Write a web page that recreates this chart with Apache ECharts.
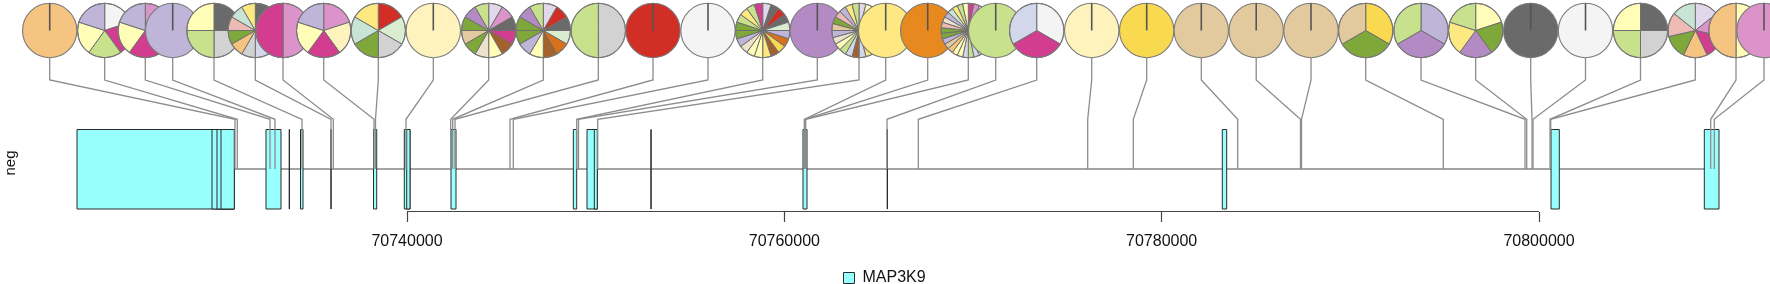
<!DOCTYPE html>
<html><head><meta charset="utf-8">
<script src="https://cdn.jsdelivr.net/npm/echarts@6/dist/echarts.min.js"></script>
<style>html,body{margin:0;padding:0;background:#fff}#c{width:1770px;height:284px}</style>
</head><body><div id="c"></div>
<script>
// ---------------- data ----------------
const geneName = 'MAP3K9';
const strandLabel = 'neg';
const tickValues = [70740000, 70760000, 70780000, 70800000];
const viewStart = 70718427, viewEnd = 70812244;
const geneStart = 70722509, geneEnd = 70809541;

const exonStarts = [70722509,70729664,70729929,70730141,70732526,70733755,70734355,70735965,70738224,70739857,70739984,70742332,70748815,70749541,70749928,70752926,70760990,70765452,70783214,70800637,70808762];
const exonEnds   = [70730846,70730846,70730846,70730846,70733321,70733768,70734488,70735978,70738394,70740159,70740159,70742597,70748995,70750087,70750087,70752939,70761202,70765465,70783447,70801077,70809541];

// variant genomic positions (where each stem touches the gene)
const snpPositions = [70730883,70731005,70732739,70733003,70734435,70735972,70736094,70738251,70738330,70739947,
  70742316,70742422,70742544,70745459,70745634,70748995,70749090,70750108,
  70761059,70761096,70761133,70765442,70767101,70776080,70778497,70784030,70787359,70787412,
  70794928,70799259,70799349,70799630,70799683,70800584,70800621,70809101,70809292];
// spread-out anchor positions of the pies (genomic units)
const pieAnchors = [70721062,70723977,70726129,70727581,70729770,70731959,70733428,70735585,70738479,70741394,
  70744330,70747224,70750140,70753039,70755954,70758854,70761748,70763958,
  70765373,70767599,70769751,70771204,70773377,70776292,70779207,70782101,70785011,70787916,
  70790815,70793746,70796645,70799561,70802465,70805380,70808285,70810442,70811926];

const pieColors = [
  ['orange'],
  ['white','magenta','lgreen','lyellow','lav'],
  ['pink','cream','magenta','lyellow','lav'],
  ['lav'],
  ['dgrey','lgrey','lgreen','lyellow'],
  ['dgrey','pink','magenta','lyellow','dorange','lblue','lgrey','orange','green','salmon','mint','yellow'],
  ['pink','magenta'],
  ['pink','cream','magenta','lyellow','lav'],
  ['red','pgreen','lgrey','green','mint','yellow'],
  ['cream'],
  ['plav','pink','dgrey','magenta','brown','lyellow','beige','green','tan','green','purple','lgreen'],
  ['plav','red','dgrey','pgreen','dorange','brown','lyellow','lav','green','green','purple','lgreen'],
  ['lgrey','lgreen'],
  ['red'],
  ['white'],
  ['plav','dgrey','red','dgrey','pgreen','lav','dorange','gold','brown','yellow','lyellow','lyellow','beige','lav','green','green','lgreen','yellow','lgreen','magenta'],
  ['purple'],
  ['plav','lyellow','pink','dgrey','lgreen','red','lav','dorange','gold','brown','yellow','lblue','brown','lblue','lgreen','lyellow','beige','lav','tan','green','salmon','lav','yellow','lgreen'],
  ['yellow'],
  ['orange2'],
  ['magenta','pink','plav','lgrey','dgrey','red','pgreen','lav','dorange','gold','brown','yellow','lyellow','lblue','lgreen','lblue','lyellow','lyellow','orange','tan','lav','green','green','salmon','beige','lav','mint','yellow','lgreen','lyellow'],
  ['lgreen'],
  ['white','magenta','lblue'],
  ['cream'],
  ['gold'],
  ['tan'],
  ['tan'],
  ['tan'],
  ['gold','green','tan'],
  ['lav','purple','lgreen'],
  ['lyellow','green','purple','yellow','lgreen'],
  ['dgrey'],
  ['white'],
  ['dgrey','lgrey','lgreen','lyellow'],
  ['plav','pink','magenta','orange','green','salmon','mint'],
  ['lyellow','orange'],
  ['pink']
];
const pieValues = [
  [1],[1,1,1,1,1],[1,1,1,1,1],[1],[1,1,1,1],[1,1,1,1,1,1,1,1,1,1,1,1],[1,1],[1,1,1,1,1],[1,1,1,1,1,1],[1],
  [1,1,1,1,1,1,1,1,1,1,1,1],[1,1,1,1,1,1,1,1,1,1,1,1],[1,1],[1],[1],
  [1,1,1,1,1,1,1,1,1,1,1,1,1,1,1,1,1,1,1,1],[1],
  [1,1,1,1,1,1,1,1,1,1,1,1,1,1,1,1,1,1,1,1,1,1,1,1],[1],[1],
  [1,1,1,1,1,1,1,1,1,1,1,1,1,1,1,1,1,1,1,1,1,1,1,1,1,1,1,1,1,1],
  [1],[1,1,1],[1],[1],[1],[1],[1],[1,1,1],[1,1,1],[1,1,1,1,1],[1],[1],[1,1,1,1],[1,1,1,1,1,1,1],[1,1],[1]
];

// ---------------- style ----------------
const palette = {
  orange:'#F4C480', lav:'#BEB5D9', white:'#F4F4F4', magenta:'#D23D90', lgreen:'#C8E18C', lyellow:'#FFFDB8',
  cream:'#FFF3BD', dgrey:'#6A6A6A', lgrey:'#D2D2D2', pink:'#DB93C9', mint:'#C8E4D4', salmon:'#EDBBB3',
  green:'#7FA83B', lblue:'#D2D7EC', dorange:'#D9711C', red:'#D12E25', pgreen:'#DAEDD1', yellow:'#FDE881',
  brown:'#A5612C', purple:'#B48AC5', tan:'#E2CA9E', gold:'#F8D94F', orange2:'#E8891F', beige:'#EEE2CC', plav:'#E1D8EC'
};
const L = { pieCy:30.5, pieR:27.2, stemTop:57.7, elbow1:80, elbow2:119.3, backbone:169, exonTop:129.5, exonBottom:209, axisY:212 };
const FONT = '"Liberation Sans", Arial, Helvetica, sans-serif';

const chart = echarts.init(document.getElementById('c'), null, {renderer:'canvas'});

function renderExon(params, api){
  const p0 = api.coord([api.value(0), L.exonTop]);
  const p1 = api.coord([api.value(1), L.exonBottom]);
  return {type:'rect', shape:{x:p0[0], y:p0[1], width:Math.max(p1[0]-p0[0], 0.3), height:p1[1]-p0[1]},
    style:{fill:'#98FFFF', stroke:'#2b2b2b', lineWidth:1}};
}
function renderBackbone(params, api){
  const a = api.coord([api.value(0), L.backbone]);
  const b = api.coord([api.value(1), L.backbone]);
  return {type:'line', shape:{x1:a[0], y1:a[1], x2:b[0], y2:b[1]}, style:{stroke:'#4a4a4a', lineWidth:1.1}};
}
function renderAxisLine(params, api){
  const a = api.coord([api.value(0), L.axisY]);
  const b = api.coord([api.value(1), L.axisY]);
  return {type:'line', shape:{x1:a[0], y1:a[1]-0.5, x2:b[0], y2:b[1]-0.5}, style:{stroke:'#444', lineWidth:1.2}};
}
function renderStem(params, api){
  const snp = api.value(0), anchor = api.value(1);
  const pts = [api.coord([anchor, L.stemTop]), api.coord([anchor, L.elbow1]), api.coord([snp, L.elbow2]), api.coord([snp, L.backbone])];
  return {type:'polyline', shape:{points:pts}, style:{stroke:'#8c8c8c', lineWidth:1.3, fill:null}};
}
function renderPie(params, api){
  const i = api.value(1);
  const c = api.coord([api.value(0), L.pieCy]);
  const R = L.pieR;
  const vals = pieValues[i], cols = pieColors[i];
  const total = vals.reduce((s,v)=>s+v,0);
  const children = [];
  if (vals.length === 1) {
    children.push({type:'circle', shape:{cx:c[0], cy:c[1], r:R}, style:{fill:palette[cols[0]], stroke:'#7a7a7a', lineWidth:1.1}});
    children.push({type:'line', shape:{x1:c[0], y1:c[1], x2:c[0], y2:c[1]-R}, style:{stroke:'#555', lineWidth:1.6}});
  } else {
    let acc = 0;
    for (let k=0;k<vals.length;k++){
      const a0 = -Math.PI/2 + acc/total*2*Math.PI;
      acc += vals[k];
      const a1 = -Math.PI/2 + acc/total*2*Math.PI;
      children.push({type:'sector', shape:{cx:c[0], cy:c[1], r:R, r0:0, startAngle:a0, endAngle:a1, clockwise:true},
        style:{fill:palette[cols[k]], stroke:'#6f6f6f', lineWidth:1}});
    }
    children.push({type:'circle', shape:{cx:c[0], cy:c[1], r:R}, style:{fill:null, stroke:'#7a7a7a', lineWidth:1.1}});
  }
  return {type:'group', children};
}

const option = {
  animation:false,
  backgroundColor:'#fff',
  grid:{left:0, right:0, top:0, bottom:284-212},
  xAxis:{type:'value', min:viewStart, max:viewEnd, position:'bottom', splitLine:{show:false},
    axisLine:{show:false, onZero:false},
    axisTick:{show:true, customValues:tickValues, length:10, lineStyle:{color:'#444', width:1.2}},
    axisLabel:{show:true, customValues:tickValues, margin:22, fontSize:16, color:'#111', fontFamily:FONT, formatter:v=>String(v)}},
  yAxis:{type:'value', min:0, max:212, inverse:true, show:false},
  legend:{data:[{name:geneName, icon:'rect', itemStyle:{color:'#98FFFF', borderColor:'#2b2b2b', borderWidth:1}}],
    left:838, top:265, itemWidth:11, itemHeight:11, textStyle:{fontSize:16, color:'#111', fontFamily:FONT, padding:[0,0,0,3]}, selectedMode:false},
  graphic:[{type:'text', x:11, y:163, rotation:Math.PI/2,
    style:{text:strandLabel, font:'15px '+FONT, fill:'#111', align:'center', verticalAlign:'middle', textAlign:'center', textVerticalAlign:'middle'}}],
  series:[
    {type:'custom', name:'axisline', renderItem:renderAxisLine, data:[[tickValues[0], tickValues[tickValues.length-1]]], silent:true, z:1},
    {type:'custom', name:'backbone', renderItem:renderBackbone, data:[[geneStart, geneEnd]], silent:true, z:2},
    {type:'custom', name:geneName, renderItem:renderExon, data:exonStarts.map((s,i)=>[s, exonEnds[i]]), silent:true, z:3,
      itemStyle:{color:'#98FFFF', borderColor:'#2b2b2b'}},
    {type:'custom', name:'stems', renderItem:renderStem, data:snpPositions.map((s,i)=>[s, pieAnchors[i]]), silent:true, z:4},
    {type:'custom', name:'pies', renderItem:renderPie, data:pieAnchors.map((a,i)=>[a, i]), silent:true, z:5}
  ]
};
chart.setOption(option);
</script></body></html>
